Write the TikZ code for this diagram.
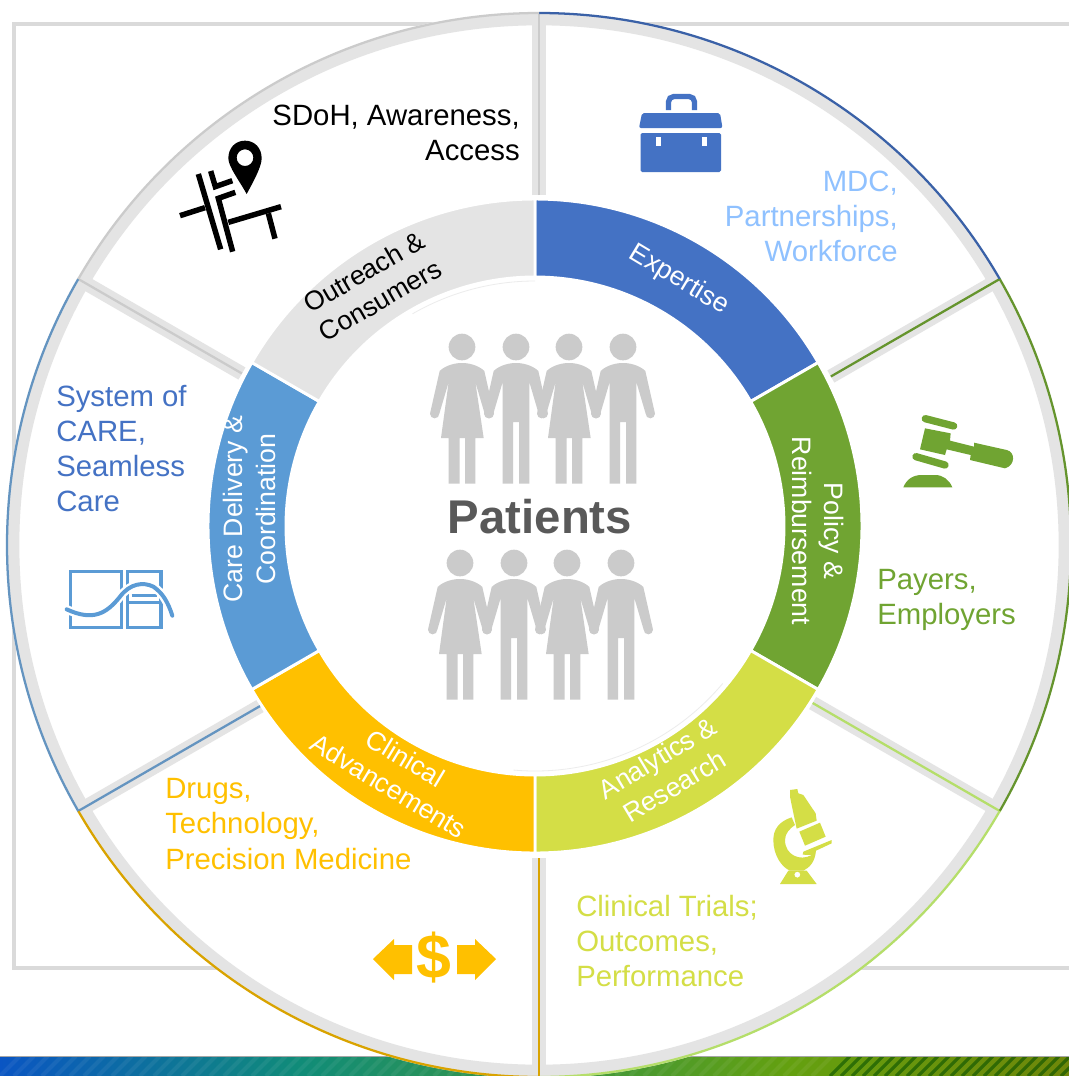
\documentclass[tikz,border=0pt]{standalone}
\usepackage{fontspec}
\setmainfont{Liberation Sans}
\usepackage{xcolor}
\usetikzlibrary{positioning}
\definecolor{expertiseblue}{HTML}{4472C4}
\definecolor{policygreen}{HTML}{70A432}
\definecolor{researchlime}{HTML}{D4DE46}
\definecolor{clinicalgold}{HTML}{FFC000}
\definecolor{careblue}{HTML}{5B9BD5}
\definecolor{outreachgray}{HTML}{E4E4E4}
\definecolor{peoplegray}{HTML}{CBCBCB}
\definecolor{mdcblue}{HTML}{8FC1FF}
\definecolor{rimlime}{HTML}{B5DE6A}
\tikzset{
	caption/.style={font=\fontsize{22}{26.3}\selectfont, inner sep=0pt},
	ringlabel/.style={font=\fontsize{20}{24.5}\selectfont, align=center, inner sep=0pt},
	spoke/.style={line width=10.5pt, draw=outreachgray},
	spokeline/.style={line width=1.7pt},
	rimline/.style={line width=1.7pt},
	ringpart/.style={draw=white, line width=2.2pt}
}
\tikzset{
	womanfig/.pic={
		\fill[peoplegray] (0,0) circle (40);
		\fill[peoplegray] (0,-48) .. controls (-30,-48) and (-55,-60) .. (-67,-72) -- (-96,-200) arc[start angle=180, end angle=360, radius=14] -- (-40,-105) -- (-63,-273) -- (-40,-273) -- (-40,-410) -- (-7,-410) -- (-7,-273) -- (9,-273) -- (9,-410) -- (40,-410) -- (40,-273) -- (65,-273) -- (40,-105) -- (68,-200) arc[start angle=180, end angle=360, radius=14] -- (67,-72) .. controls (55,-60) and (30,-48) .. (0,-48) -- cycle;
	},
	manfig/.pic={
		\fill[peoplegray] (0,0) circle (40);
		\fill[peoplegray] (0,-48) .. controls (-30,-48) and (-55,-60) .. (-67,-72) -- (-96,-200) arc[start angle=180, end angle=360, radius=14] -- (-40,-105) -- (-40,-410) -- (-9,-410) -- (-9,-225) -- (9,-225) -- (9,-410) -- (40,-410) -- (40,-105) -- (68,-200) arc[start angle=180, end angle=360, radius=14] -- (67,-72) .. controls (55,-60) and (30,-48) .. (0,-48) -- cycle;
	}
}

\begin{document}
\begin{tikzpicture}[x=0.75pt, y=-0.75pt]

	% origin for the rim and for the ring
	\newcommand{\xrim}{539}
	\newcommand{\yrim}{545}
	\newcommand{\rimradius}{533}
	\newcommand{\xring}{535}
	\newcommand{\yring}{526}
	\newcommand{\ringouter}{327}
	\newcommand{\ringinner}{249}

	\clip (0,0) rectangle (1069,1076);
	\fill[white] (0,0) rectangle (1069,1076);

	% frame behind the circle
	\draw[line width=3.6pt, draw=outreachgray!90!gray] (14,24) rectangle (1100,968);

	% strip at the bottom
	\begin{scope}
		\clip (0,1056) rectangle (1069,1076);
		\shade[shading=axis, shading angle=90, left color={rgb,255:red,10;green,85;blue,195}, right color={rgb,255:red,16;green,140;blue,120}] (0,1056) rectangle (300,1076);
		\shade[shading=axis, shading angle=90, left color={rgb,255:red,16;green,140;blue,120}, right color={rgb,255:red,100;green,160;blue,15}] (300,1056) rectangle (790,1076);
		\shade[shading=axis, shading angle=90, left color={rgb,255:red,100;green,160;blue,15}, right color={rgb,255:red,110;green,135;blue,10}] (790,1056) rectangle (1069,1076);
		\foreach \xstripe in {0,14,...,820} {
			\draw[line width=3pt, draw=white, opacity=0.06] (\xstripe,1076) -- (\xstripe+20,1056);
		}
		\foreach \xstripe in {830,841,...,1080} {
			\draw[line width=2.4pt, draw=black!70!green, opacity=0.55] (\xstripe,1076) -- (\xstripe+20,1056);
		}
		\draw[line width=1pt, draw=gray!70] (0,1056) -- (1069,1056);
	\end{scope}

	% rim
	\fill[white] (\xrim,\yrim) circle (\rimradius);
	\draw[line width=9.5pt, draw=outreachgray] (\xrim,\yrim) circle (\rimradius-7);

	\begin{scope}[shift={(\xrim,\yrim)}]
		% spokes
		\foreach \spokeangle/\spokestart/\spokecolor in {-90/350/peoplegray, 210/343/peoplegray, -30/337/policygreen!90!black, 30/316/rimlime, 90/313/clinicalgold!85!black, 150/322/careblue!75!gray} {
			\draw[spoke] (\spokeangle:\spokestart) -- (\spokeangle:526);
			\draw[spokeline, draw=\spokecolor] (\spokeangle:\spokestart) -- (\spokeangle:533);
		}
		% coloured rim pieces
		\foreach \startangle/\endangle/\rimcolor in {-90/-30/expertiseblue!85!black, -30/30/policygreen!90!black, 30/90/rimlime, 90/150/clinicalgold!85!black, 150/210/careblue!75!gray, 210/270/peoplegray} {
			\draw[rimline, draw=\rimcolor] (\startangle:532) arc[start angle=\startangle, end angle=\endangle, radius=532];
		}
	\end{scope}

	% ring
	\begin{scope}[shift={(\xring,\yring)}]
		\foreach \startangle/\endangle/\partcolor in {-90/-30/expertiseblue, -30/30/policygreen, 30/90/researchlime, 90/150/clinicalgold, 150/210/careblue, 210/270/outreachgray} {
			\filldraw[ringpart, fill=\partcolor] (\startangle:\ringinner) -- (\startangle:\ringouter) arc[start angle=\startangle, end angle=\endangle, radius=\ringouter] -- (\endangle:\ringinner) arc[start angle=\endangle, end angle=\startangle, radius=\ringinner] -- cycle;
		}
		% faint inner edges
		\draw[line width=0.6pt, draw=gray!15] (240:245) arc[start angle=240, end angle=270, radius=245];
		\draw[line width=0.6pt, draw=gray!15] (40:245) arc[start angle=40, end angle=95, radius=245];
	\end{scope}

	% ring labels
	\node[ringlabel, text=white, rotate=-31] (expertise) at (679,280) {Expertise};
	\node[ringlabel, text=white, rotate=-90] (policy) at (818,531) {Policy \&\\Reimbursement};
	\node[ringlabel, text=white, rotate=31] (analytics) at (666,772) {Analytics \&\\Research};
	\node[ringlabel, text=white, rotate=-31] (clinical) at (397,772) {Clinical\\Advancements};
	\node[ringlabel, text=white, rotate=90] (care) at (249.5,509) {Care Delivery \&\\Coordination};
	\node[ringlabel, text=black, rotate=30] (outreach) at (372,286) {Outreach \&\\Consumers};

	% outer captions
	\node[caption, align=right, anchor=east] (sdoh) at (520,133) {SDoH, Awareness,\\Access};
	\node[caption, align=right, anchor=east, text=mdcblue] (mdc) at (898,216.5) {MDC,\\Partnerships,\\Workforce};
	\node[caption, align=left, anchor=west, text=policygreen] (payers) at (877,600) {Payers,\\Employers};
	\node[caption, align=left, anchor=west, text=researchlime] (trials) at (576,941) {Clinical Trials;\\Outcomes,\\Performance};
	\node[caption, align=left, anchor=west, text=clinicalgold] (drugs) at (165,824) {Drugs,\\Technology,\\Precision Medicine};
	\node[caption, align=left, anchor=west, text=expertiseblue] (system) at (56,448.5) {System of\\CARE,\\Seamless\\Care};

	% patients
	\foreach \xhead/\figname in {462/womanfig, 516/manfig, 569/womanfig, 623/manfig} {
		\pic[scale=1/3, yscale=-1] at (\xhead,347) {\figname};
	}
	\foreach \xhead/\figname in {460/womanfig, 514/manfig, 567/womanfig, 621/manfig} {
		\pic[scale=1/3, yscale=-1] at (\xhead,563) {\figname};
	}
	\node[font=\bfseries\fontsize{35.5}{40}\selectfont, text=black!65, inner sep=0pt] (patients) at (540,517) {Patients};

	% briefcase
	\fill[expertiseblue, rounded corners=1.2pt] (640.5,133) rectangle (721,172);
	\fill[expertiseblue, rounded corners=1.5pt] (642,113) -- (720,113) -- (722.5,128) -- (639,128) -- cycle;
	\draw[expertiseblue, line width=4pt, rounded corners=4pt] (668.5,110) -- (668.5,96.5) -- (694.5,96.5) -- (694.5,110);
	\fill[white] (655.5,137) rectangle (660.5,146);
	\fill[white] (702,137) rectangle (707,146);

	% map pin and roads
	\begin{scope}[shift={(170,130)}, scale=1/3]
		\fill[black, even odd rule] (225,32) .. controls (195,32) and (175,55) .. (175,85) .. controls (175,110) and (210,155) .. (230,192) .. controls (250,155) and (275,110) .. (275,85) .. controls (275,55) and (255,32) .. (225,32) -- cycle (225,83) circle (25);
		\draw[line width=4.1pt, black] (85,132) -- (152,358);
		\draw[line width=4.1pt, black] (188,365) -- (145,205) -- (196,187);
		\draw[line width=4.1pt, black] (122,123) -- (136,170) -- (187,152);
		\draw[line width=4.1pt, black] (30,257) -- (105,233);
		\draw[line width=4.1pt, black] (175,277) -- (333,230);
		\draw[line width=4.1pt, black] (295,250) -- (315,326);
	\end{scope}

	% gavel
	\begin{scope}[shift={(890,400)}, scale=1/3]
		\draw[policygreen, line width=5.5pt, line cap=round] (106,56) -- (191,78);
		\draw[policygreen, line width=5.5pt, line cap=round] (78,170) -- (165,195);
		\fill[policygreen] (105,85) -- (182,100) -- (180,122) -- (252,140) -- (252,128) -- (350,150) .. controls (375,155) and (378,195) .. (345,205) -- (240,180) -- (242,165) -- (170,148) -- (165,165) -- (90,148) -- cycle;
		\fill[policygreen] (40,262) .. controls (50,237) and (70,225) .. (95,225) -- (135,225) .. controls (160,225) and (178,240) .. (187,262) -- cycle;
	\end{scope}

	% microscope
	\begin{scope}[shift={(760,780)}, scale=1/3]
		\fill[researchlime] (90,30) -- (112,27) -- (115,40) -- (130,45) -- (167,100) -- (170,122) -- (110,146) -- (95,75) -- (90,50) -- cycle;
		\fill[researchlime] (118,155) -- (180,128) -- (197,170) -- (135,197) -- cycle;
		\fill[researchlime] (95,112) .. controls (55,125) and (40,150) .. (40,180) .. controls (40,225) and (65,262) .. (90,272) -- (130,272) .. controls (150,262) and (165,245) .. (168,212) -- (215,190) -- (215,180) -- (130,215) -- (128,224) -- (155,225) .. controls (120,245) and (75,225) .. (75,180) .. controls (75,160) and (90,145) .. (105,135) -- cycle;
		\fill[researchlime, even odd rule] (60,312) -- (85,272) -- (140,272) -- (170,312) -- cycle (112,284) circle (9);
	\end{scope}

	% windows and curve
	\begin{scope}[shift={(50,550)}, scale=1/3]
		\draw[careblue, line width=2.6pt] (62,64) rectangle (215,232);
		\draw[careblue, line width=2.6pt] (232,64) rectangle (333,232);
		\draw[careblue, line width=2.6pt] (232,158) -- (333,158);
		\draw[careblue, line width=2.6pt] (245,136) -- (320,136);
		\draw[white, line width=6.5pt] (50,178) .. controls (130,215) and (170,190) .. (210,140) .. controls (240,100) and (280,95) .. (310,110) .. controls (340,130) and (355,160) .. (367,197);
		\draw[careblue, line width=3pt, line cap=round] (50,178) .. controls (130,215) and (170,190) .. (210,140) .. controls (240,100) and (280,95) .. (310,110) .. controls (340,130) and (355,160) .. (367,197);
	\end{scope}

	% dollar and arrows
	\fill[clinicalgold] (412,945) -- (394,945) -- (394,939) -- (373,959) -- (394,980) -- (394,974) -- (412,974) -- cycle;
	\fill[clinicalgold] (457,945) -- (475,945) -- (475,939) -- (496,959) -- (475,980) -- (475,974) -- (457,974) -- cycle;
	\node[font=\bfseries\fontsize{47}{50}\selectfont, text=clinicalgold, inner sep=0pt] (dollar) at (434,958) {\$};

\end{tikzpicture}
\end{document}
